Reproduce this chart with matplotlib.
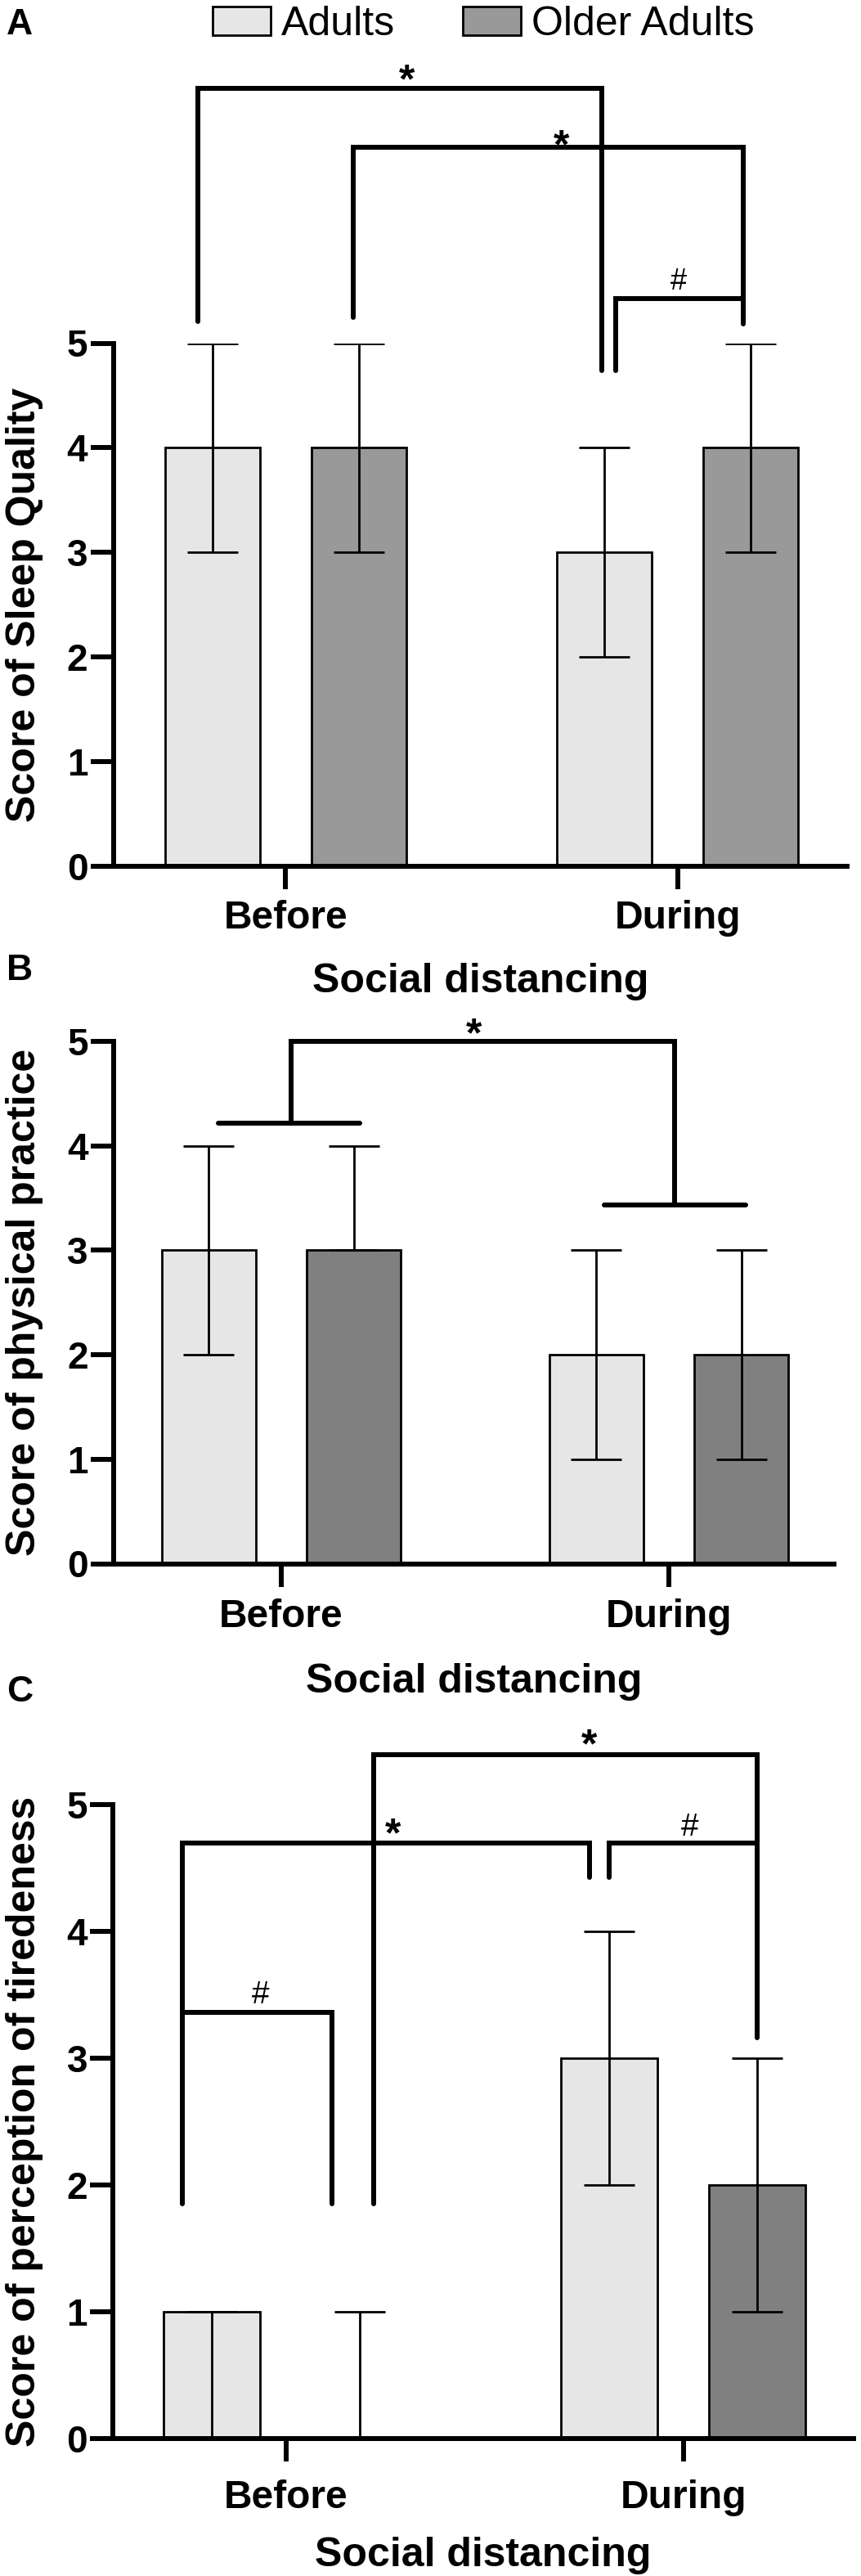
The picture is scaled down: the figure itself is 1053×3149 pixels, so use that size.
import matplotlib
matplotlib.use("Agg")
import matplotlib.pyplot as plt

plt.rcParams['font.family'] = ['Liberation Sans', 'DejaVu Sans']

# ---------------- data ----------------
groups = ['Before', 'During']
series = ['Adults', 'Older Adults']

sleep_adults = [4, 3]
sleep_adults_lo = [3, 2]
sleep_adults_hi = [5, 4]
sleep_older = [4, 4]
sleep_older_lo = [3, 3]
sleep_older_hi = [5, 5]

phys_adults = [3, 2]
phys_adults_lo = [2, 1]
phys_adults_hi = [4, 3]
phys_older = [3, 2]
phys_older_lo = [3, 1]
phys_older_hi = [4, 3]

tired_adults = [1, 3]
tired_adults_lo = [0, 2]
tired_adults_hi = [1, 4]
tired_older = [0, 2]
tired_older_lo = [0, 1]
tired_older_hi = [1, 3]

ylabels = ['Score of Sleep Quality', 'Score of physical practice',
           'Score of perception of tiredeness']
xlabel = 'Social distancing'
yticks = [0, 1, 2, 3, 4, 5]

# ---------------- styling ----------------
W, H = 1053, 3149
DPI = 100
fig = plt.figure(figsize=(W / DPI, H / DPI), dpi=DPI)

c_adult = '#e6e6e6'
c_older = ['#999999', '#808080', '#808080']

# axes in pixel coords: left, right, top(y=5), bottom(y=0)
axes_px = [(138.5, 1036, 419.5, 1059),
           (139.0, 1020, 1273, 1911.5),
           (138.3, 1044, 2206, 2981)]
xlims = [(-0.4404, 1.433), (-0.4325, 1.426), (-0.4346, 1.429)]
tick_pads = [9.4, 10.4, 15.8]
xlabel_base = [1213, 2069, 3137]
letter_base = [42, 1198, 2080]
letters = ['A', 'B', 'C']

LW_AX = 4.3
LW_BR = 4.3
LW_EB = 2.0
OFF = 0.187
BW = 0.243

datasets = [
    (sleep_adults, sleep_adults_lo, sleep_adults_hi, sleep_older, sleep_older_lo, sleep_older_hi),
    (phys_adults, phys_adults_lo, phys_adults_hi, phys_older, phys_older_lo, phys_older_hi),
    (tired_adults, tired_adults_lo, tired_adults_hi, tired_older, tired_older_lo, tired_older_hi),
]

axes = []
bars_for_legend = None
for i, (l, r, t, b) in enumerate(axes_px):
    ax = fig.add_axes([l / W, 1 - b / H, (r - l) / W, (b - t) / H])
    axes.append(ax)
    a, alo, ahi, o, olo, ohi = datasets[i]
    xs = list(range(len(groups)))
    xa = [x - OFF for x in xs]
    xo = [x + OFF for x in xs]
    b1 = ax.bar(xa, a, width=BW, color=c_adult, edgecolor='black', linewidth=2.0, zorder=2,
                label=series[0])
    b2 = ax.bar(xo, o, width=BW, color=c_older[i], edgecolor='black', linewidth=2.0, zorder=2,
                label=series[1])
    if i == 0:
        bars_for_legend = (b1, b2)
    ax.errorbar(xa, a, yerr=[[v - lo for v, lo in zip(a, alo)], [hi - v for v, hi in zip(a, ahi)]],
                fmt='none', ecolor='black', elinewidth=LW_EB, capsize=22.5, capthick=LW_EB, zorder=3)
    ax.errorbar(xo, o, yerr=[[v - lo for v, lo in zip(o, olo)], [hi - v for v, hi in zip(o, ohi)]],
                fmt='none', ecolor='black', elinewidth=LW_EB, capsize=22.5, capthick=LW_EB, zorder=3)

    ax.set_xlim(*xlims[i])
    ax.set_ylim(0, 5)
    ax.set_yticks(yticks)
    ax.set_xticks(xs)
    ax.set_xticklabels(groups)
    for s in ['top', 'right']:
        ax.spines[s].set_visible(False)
    for s in ['left', 'bottom']:
        ax.spines[s].set_linewidth(LW_AX)
        ax.spines[s].set_zorder(4)
    ax.tick_params(axis='both', direction='out', length=20, width=LW_AX)
    ax.tick_params(axis='y', pad=2.5, labelsize=33)
    ax.tick_params(axis='x', pad=tick_pads[i], labelsize=34.5)
    for lab in ax.get_xticklabels() + ax.get_yticklabels():
        lab.set_fontweight('bold')
    ax.patch.set_visible(False)

    # labels
    yc = (t + b) / 2
    fig.text(30 / W, 1 - yc / H, ylabels[i], rotation=90, ha='center', va='center',
             fontsize=36, fontweight='bold')
    fig.text((l + r) / 2 / W, 1 - xlabel_base[i] / H, xlabel, ha='center', va='baseline',
             fontsize=36, fontweight='bold')
    fig.text(8 / W, 1 - letter_base[i] / H, letters[i], ha='left', va='baseline',
             fontsize=32, fontweight='bold')


def bracket(ax, xs, ys):
    ax.plot(xs, ys, color='black', lw=LW_BR, clip_on=False, solid_capstyle='round',
            solid_joinstyle='miter', zorder=5)


def mark(ax, s, x, y, kind):
    if kind == 'star':
        ax.annotate(s, xy=(x, y), xytext=(0, -20.5), textcoords='offset points', ha='center',
                    va='baseline', fontsize=36, fontweight='bold', annotation_clip=False)
    else:
        fs = kind
        ax.annotate(s, xy=(x, y), xytext=(0, -0.35 * fs), textcoords='offset points', ha='center',
                    va='baseline', fontsize=fs, annotation_clip=False)


# Panel A brackets
axA, axB, axC = axes
bracket(axA, [-0.2235, -0.2235, 0.807, 0.807], [5.21, 7.435, 7.435, 4.74])
bracket(axA, [0.173, 0.173, 1.168, 1.168], [5.25, 6.87, 6.87, 5.18])
bracket(axA, [0.842, 0.842, 1.168], [4.74, 5.43, 5.43])
mark(axA, '*', 0.309, 7.62, 'star')
mark(axA, '*', 0.704, 6.99, 'star')
mark(axA, '#', 1.003, 5.61, 26)

# Panel B brackets
bracket(axB, [-0.1635, 0.2025], [4.22, 4.22])
bracket(axB, [0.0245, 0.0245, 1.014, 1.014], [4.22, 5.0, 5.0, 3.435])
bracket(axB, [0.833, 1.199], [3.435, 3.435])
mark(axB, '*', 0.498, 5.175, 'star')

# Panel C brackets
bracket(axC, [-0.261, -0.261, 0.1167, 0.1167], [1.85, 3.36, 3.36, 1.85])
bracket(axC, [-0.261, -0.261, 0.7637, 0.7637], [3.36, 4.697, 4.697, 4.425])
bracket(axC, [0.814, 0.814, 1.186, 1.186], [4.425, 4.697, 4.697, 3.16])
bracket(axC, [0.221, 0.221, 1.186, 1.186], [1.85, 5.394, 5.394, 4.697])
mark(axC, '#', -0.064, 3.52, 28)
mark(axC, '*', 0.269, 4.85, 'star')
mark(axC, '#', 1.017, 4.84, 28)
mark(axC, '*', 0.764, 5.555, 'star')

# legend
fig.legend(handles=list(bars_for_legend), labels=series, loc='center left',
           bbox_to_anchor=(260 / W, 1 - 30 / H), ncol=2, frameon=False, fontsize=36,
           handlelength=1.42, handleheight=0.68, handletextpad=0.26, columnspacing=1.66,
           borderpad=0, borderaxespad=0)

fig.savefig('out.png', dpi=DPI)
